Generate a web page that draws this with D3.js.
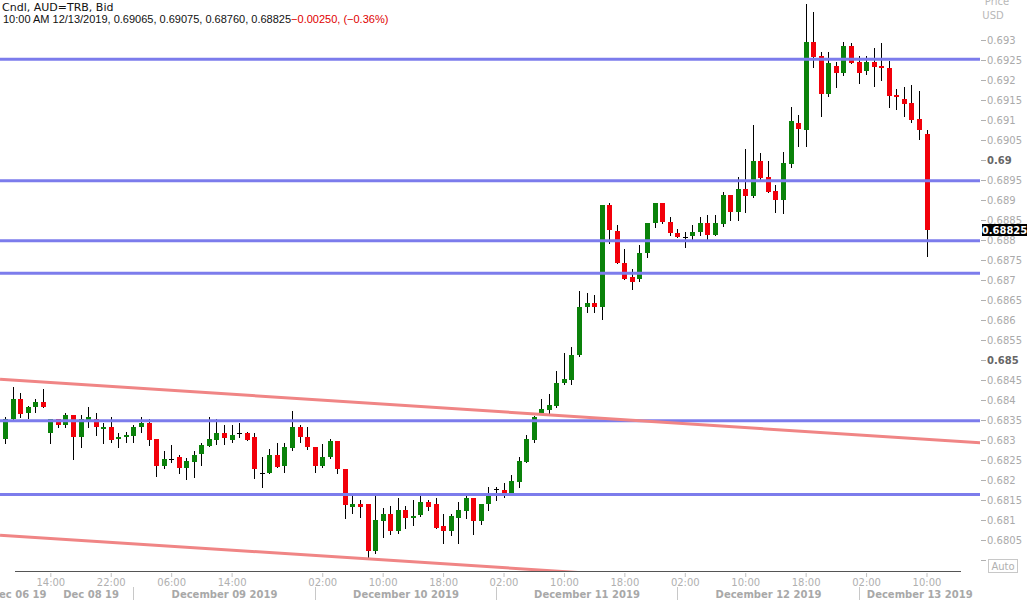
<!DOCTYPE html>
<html><head><meta charset="utf-8">
<script src="https://cdn.jsdelivr.net/npm/d3@7"></script>
<style>
html,body{margin:0;padding:0;background:#fff;overflow:hidden;}
svg{display:block;}
</style></head><body>
<svg id="chart" width="1027" height="600"></svg>
<script>
// ---------------- DATA ----------------
const instrument = "Cndl, AUD=TRB, Bid";
// hourly trading sessions (weekend gap between them)
const sessions = [["2019-12-06T08:00","2019-12-06T21:00"],["2019-12-08T22:00","2019-12-13T10:00"]];

const open = [0.68302,0.68352,0.68402,0.68367,0.68382,0.68396,0.68317,0.68352,0.68338,0.68363,
0.68307,0.68350,0.68352,0.68327,0.68332,0.68302,0.68307,0.68310,0.68332,0.68342,
0.68302,0.68235,0.68252,0.68257,0.68229,0.68246,0.68265,0.68285,0.68300,0.68317,
0.68300,0.68318,0.68318,0.68307,0.68217,0.68217,0.68263,0.68235,0.68279,0.68332,
0.68307,0.68282,0.68235,0.68257,0.68298,0.68227,0.68133,0.68140,0.68140,0.68023,
0.68098,0.68115,0.68073,0.68125,0.68104,0.68113,0.68146,0.68140,0.68085,0.68073,
0.68104,0.68123,0.68154,0.68098,0.68140,0.68177,0.68175,0.68168,0.68196,0.68246,
0.68300,0.68367,0.68375,0.68385,0.68442,0.68450,0.68513,0.68632,0.68642,0.68632,
0.68888,0.68823,0.68743,0.68708,0.68702,0.68767,0.68842,0.68892,0.68846,0.68817,
0.68807,0.68810,0.68821,0.68842,0.68813,0.68840,0.68913,0.68871,0.68927,0.68910,
0.68998,0.68957,0.68923,0.68900,0.68990,0.69093,0.69075,0.69296,0.69260,0.69165,
0.69235,0.69218,0.69285,0.69246,0.69223,0.69246,0.69235,0.69229,0.69163,0.69152,
0.69143,0.69103,0.69065];
const high = [0.68358,0.68432,0.68417,0.68384,0.68402,0.68428,0.68352,0.68352,0.68367,0.68363,
0.68363,0.68383,0.68367,0.68343,0.68357,0.68317,0.68321,0.68338,0.68357,0.68352,
0.68302,0.68273,0.68288,0.68263,0.68254,0.68273,0.68293,0.68357,0.68352,0.68338,
0.68338,0.68343,0.68321,0.68317,0.68257,0.68277,0.68293,0.68293,0.68373,0.68338,
0.68332,0.68282,0.68290,0.68302,0.68298,0.68227,0.68160,0.68150,0.68140,0.68160,
0.68129,0.68135,0.68154,0.68135,0.68150,0.68160,0.68150,0.68154,0.68115,0.68115,
0.68146,0.68165,0.68154,0.68140,0.68182,0.68182,0.68192,0.68213,0.68258,0.68313,
0.68360,0.68402,0.68415,0.68473,0.68518,0.68533,0.68673,0.68667,0.68663,0.68888,
0.68893,0.68838,0.68777,0.68727,0.68788,0.68843,0.68892,0.68892,0.68857,0.68827,
0.68821,0.68838,0.68857,0.68863,0.68863,0.68921,0.68913,0.68957,0.69027,0.69088,
0.69017,0.68998,0.68938,0.69021,0.69132,0.69113,0.69390,0.69371,0.69271,0.69271,
0.69246,0.69296,0.69292,0.69260,0.69260,0.69279,0.69292,0.69248,0.69177,0.69182,
0.69188,0.69173,0.69075];
const low = [0.68292,0.68350,0.68358,0.68356,0.68371,0.68382,0.68292,0.68333,0.68333,0.68252,
0.68282,0.68332,0.68313,0.68292,0.68296,0.68282,0.68296,0.68296,0.68321,0.68288,
0.68210,0.68229,0.68246,0.68217,0.68202,0.68207,0.68238,0.68285,0.68290,0.68290,
0.68296,0.68308,0.68300,0.68204,0.68182,0.68217,0.68232,0.68221,0.68275,0.68296,
0.68277,0.68221,0.68232,0.68254,0.68217,0.68104,0.68118,0.68108,0.68007,0.68018,
0.68058,0.68065,0.68068,0.68079,0.68088,0.68110,0.68125,0.68079,0.68043,0.68063,
0.68043,0.68104,0.68065,0.68090,0.68125,0.68150,0.68158,0.68167,0.68182,0.68246,
0.68296,0.68367,0.68367,0.68383,0.68440,0.68440,0.68510,0.68621,0.68621,0.68602,
0.68792,0.68742,0.68702,0.68677,0.68698,0.68757,0.68832,0.68842,0.68813,0.68807,
0.68782,0.68802,0.68813,0.68802,0.68813,0.68835,0.68850,0.68850,0.68871,0.68907,
0.68950,0.68921,0.68871,0.68867,0.68982,0.69035,0.69035,0.69233,0.69110,0.69160,
0.69182,0.69213,0.69243,0.69192,0.69215,0.69185,0.69200,0.69132,0.69127,0.69110,
0.69096,0.69052,0.68760];
const close = [0.68352,0.68402,0.68364,0.68382,0.68396,0.68382,0.68352,0.68338,0.68363,0.68307,
0.68352,0.68357,0.68332,0.68332,0.68300,0.68307,0.68313,0.68332,0.68343,0.68300,
0.68235,0.68252,0.68252,0.68229,0.68248,0.68263,0.68288,0.68302,0.68318,0.68304,
0.68313,0.68318,0.68300,0.68227,0.68217,0.68263,0.68232,0.68282,0.68332,0.68307,
0.68282,0.68235,0.68257,0.68298,0.68227,0.68137,0.68140,0.68133,0.68023,0.68100,
0.68115,0.68073,0.68125,0.68104,0.68110,0.68146,0.68133,0.68079,0.68073,0.68110,
0.68125,0.68154,0.68098,0.68140,0.68168,0.68177,0.68168,0.68198,0.68248,0.68302,
0.68357,0.68377,0.68388,0.68442,0.68452,0.68513,0.68632,0.68642,0.68632,0.68888,
0.68825,0.68742,0.68702,0.68696,0.68768,0.68843,0.68892,0.68846,0.68817,0.68807,
0.68807,0.68821,0.68842,0.68813,0.68842,0.68913,0.68871,0.68927,0.68910,0.68998,
0.68956,0.68921,0.68900,0.68992,0.69098,0.69077,0.69296,0.69258,0.69165,0.69242,
0.69218,0.69285,0.69243,0.69218,0.69246,0.69233,0.69229,0.69160,0.69157,0.69140,
0.69100,0.69075,0.68825];

// horizontal support / resistance levels (blue)
const levels = [0.69252, 0.68948, 0.68798, 0.68717, 0.68348, 0.68164];
// channel trend lines (red) as [candle index, price]
const trendUpper = [[-0.66, 0.68452], [129.8, 0.68292]];
const trendLower = [[-0.66, 0.68062], [129.8, 0.67903]];

// axis ticks
const yTicks = [0.68,0.6805,0.681,0.6815,0.682,0.6825,0.683,0.6835,0.684,0.6845,0.685,0.6855,
  0.686,0.6865,0.687,0.6875,0.688,0.6885,0.689,0.6895,0.69,0.6905,0.691,0.6915,0.692,0.6925,0.693];
const yMajor = [0.685, 0.69];
const timeTicks = ["2019-12-06T14:00","2019-12-08T22:00","2019-12-09T06:00","2019-12-09T14:00",
  "2019-12-10T02:00","2019-12-10T10:00","2019-12-10T18:00","2019-12-11T02:00","2019-12-11T10:00",
  "2019-12-11T18:00","2019-12-12T02:00","2019-12-12T10:00","2019-12-12T18:00","2019-12-13T02:00",
  "2019-12-13T10:00"];
const shortDates = ["Dec 06 19", "Dec 08 19"];
const longDates = ["December 09 2019","December 10 2019","December 11 2019","December 12 2019","December 13 2019"];
const dayStarts = ["2019-12-09T01:00","2019-12-10T01:00","2019-12-11T01:00","2019-12-12T01:00","2019-12-13T01:00"];

// ---------------- CHART ----------------
const parse = d3.timeParse("%Y-%m-%dT%H:%M");
const times = [];
sessions.forEach(([a,b]) => { d3.timeHour.range(parse(a), d3.timeHour.offset(parse(b),1)).forEach(t => times.push(t)); });
const idxOf = s => times.findIndex(t => +t === +parse(s));

const data = times.map((t,i) => ({t, i, o:open[i], h:high[i], l:low[i], c:close[i]}));

const svg = d3.select("#chart");
const plotRight = 980, plotBottom = 571;
const x = d3.scaleLinear().domain([0, data.length-1]).range([5, 926.5]);
const y = d3.scaleLinear().domain([0.68, 0.694]).range([560, 0]);

const GREEN = "#0a820a", RED = "#f2000a";
const FONT = "DejaVu Sans, Verdana, sans-serif";

svg.append("defs").append("clipPath").attr("id","clip")
  .append("rect").attr("x",0).attr("y",0).attr("width",plotRight).attr("height",plotBottom);

const plot = svg.append("g").attr("clip-path","url(#clip)");

// candles
const cg = plot.append("g");
cg.selectAll("line.wick").data(data).join("line").attr("class","wick")
  .attr("x1", d => Math.round(x(d.i)) + 0.5).attr("x2", d => Math.round(x(d.i)) + 0.5)
  .attr("y1", d => Math.round(y(d.h))).attr("y2", d => Math.round(y(d.l)) + 1)
  .attr("stroke", "#000").attr("stroke-width", 1);
cg.selectAll("rect.body").data(data).join("rect").attr("class","body")
  .attr("x", d => Math.round(x(d.i)) - 2).attr("width", 5)
  .attr("y", d => Math.round(y(Math.max(d.o, d.c))))
  .attr("height", d => Math.max(1, Math.round(y(Math.min(d.o, d.c))) - Math.round(y(Math.max(d.o, d.c)))))
  .attr("fill", d => d.c > d.o ? GREEN : (d.c < d.o ? RED : "#000"));

// horizontal levels
plot.selectAll("line.level").data(levels).join("line").attr("class","level")
  .attr("x1", 0).attr("x2", plotRight)
  .attr("y1", d => y(d)).attr("y2", d => y(d))
  .attr("stroke", "#7c7cec").attr("stroke-width", 3);

// trend lines
const tl = d3.line().x(d => x(d[0])).y(d => y(d[1]));
plot.selectAll("path.trend").data([trendUpper, trendLower]).join("path").attr("class","trend")
  .attr("d", tl).attr("fill","none").attr("stroke", "#f08585").attr("stroke-width", 3);

// right price axis
const fmt = d3.format(".4~f");
const yAxis = d3.axisRight(y).tickValues(yTicks).tickSize(5).tickPadding(1)
  .tickFormat(d => Math.abs(d - 0.68) < 1e-9 ? "" : fmt(d));
const ya = svg.append("g").attr("transform", `translate(${plotRight + 1},0)`).call(yAxis);
ya.select(".domain").remove();
ya.selectAll(".tick line").attr("stroke", "#b0b0b0");
ya.selectAll(".tick text")
  .attr("font-family", FONT).attr("font-size", 10)
  .attr("fill", d => yMajor.some(m => Math.abs(m - d) < 1e-9) ? "#666" : "#aaa")
  .attr("font-weight", d => yMajor.some(m => Math.abs(m - d) < 1e-9) ? "bold" : "normal");

svg.append("text").attr("x", 997).attr("y", 5).attr("text-anchor","middle")
  .attr("font-family", FONT).attr("font-size", 10).attr("fill", "#b8b8b8").text("Price");
svg.append("text").attr("x", 993).attr("y", 19).attr("text-anchor","middle")
  .attr("font-family", FONT).attr("font-size", 10).attr("fill", "#b8b8b8").text("USD");

// last price box
const last = data[data.length-1];
svg.append("rect").attr("x", 982).attr("y", Math.round(y(last.c)) - 6).attr("width", 45).attr("height", 12).attr("fill", "#000");
svg.append("text").attr("x", 1004.5).attr("y", Math.round(y(last.c)) + 4).attr("text-anchor","middle")
  .attr("font-family", FONT).attr("font-size", 10).attr("font-weight","bold").attr("fill","#fff")
  .text(d3.format(".5f")(last.c));

// Auto box
svg.append("rect").attr("x", 988.5).attr("y", 559.5).attr("width", 29).attr("height", 13)
  .attr("fill","none").attr("stroke","#c8c8c8");
svg.append("text").attr("x", 1003).attr("y", 570).attr("text-anchor","middle")
  .attr("font-family", FONT).attr("font-size", 10).attr("fill","#b0b0b0").text("Auto");

// bottom axis
svg.append("line").attr("x1", 15).attr("x2", 961).attr("y1", 571.5).attr("y2", 571.5)
  .attr("stroke", "#555").attr("stroke-width", 1);
const tickIdx = timeTicks.map(idxOf);
const xAxis = d3.axisBottom(x).tickValues(tickIdx).tickSize(4).tickPadding(2)
  .tickFormat(i => d3.timeFormat("%H:%M")(times[i]));
const xa = svg.append("g").attr("transform","translate(0,573)").call(xAxis);
xa.select(".domain").remove();
xa.selectAll(".tick line").attr("stroke","#c0c0c0");
xa.selectAll(".tick text").attr("font-family", FONT).attr("font-size", 10).attr("fill","#b0b0b0");

// day separators and date labels
const sepX = dayStarts.map(s => Math.round(x(idxOf(s))) + 0.5);
svg.selectAll("line.sep").data(sepX).join("line").attr("class","sep")
  .attr("x1", d => d).attr("x2", d => d).attr("y1", 587).attr("y2", 600)
  .attr("stroke", "#c8c8c8");
const bounds = sepX.concat([plotRight]);
svg.selectAll("text.date").data(longDates).join("text").attr("class","date")
  .attr("x", (d,k) => (bounds[k] + bounds[k+1]) / 2).attr("y", 598).attr("text-anchor","middle")
  .attr("font-family", FONT).attr("font-size", 10).attr("font-weight","bold").attr("fill","#a8a8a8")
  .text(d => d);
const shortAnchors = [x(5.5), x(15.1)];
svg.selectAll("text.sdate").data(shortDates).join("text").attr("class","sdate")
  .attr("x", (d,k) => shortAnchors[k]).attr("y", 598).attr("text-anchor","end")
  .attr("font-family", FONT).attr("font-size", 10).attr("font-weight","bold").attr("fill","#a8a8a8")
  .text(d => d);

// header
const prev = data[data.length-2];
const chg = last.c - prev.c;
svg.append("text").attr("x", 2).attr("y", 11)
  .attr("font-family","DejaVu Sans, Verdana, sans-serif").attr("font-size", 11).attr("fill","#111")
  .text(instrument);
const h2 = svg.append("text").attr("x", 3).attr("y", 23)
  .attr("font-family","Liberation Sans, Arial, sans-serif").attr("font-size", 11);
const f5 = d3.format(".5f");
h2.append("tspan").attr("fill","#111")
  .text(`${d3.timeFormat("%I:%M %p %m/%d/%Y")(last.t)}, ${f5(last.o)}, ${f5(last.h)}, ${f5(last.l)}, ${f5(last.c)}`);
h2.append("tspan").attr("fill","#e00000")
  .text(`${d3.format("+.5f")(chg).replace("+","")}, (${d3.format(".2f")(chg / prev.c * 100)}%)`);
</script>
</body></html>
